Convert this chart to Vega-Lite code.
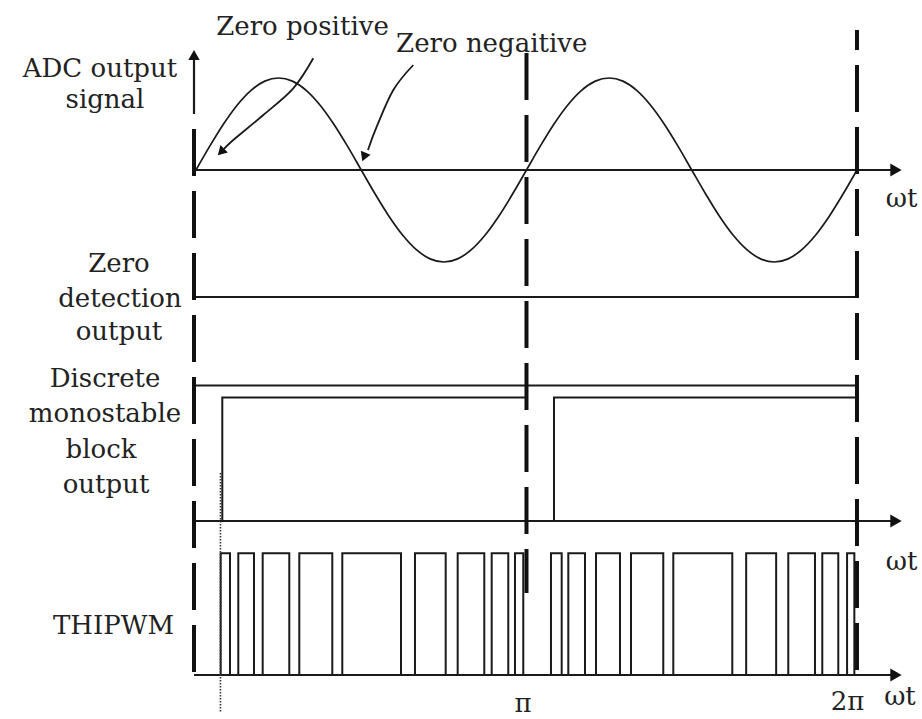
{
  "$schema": "https://vega.github.io/schema/vega-lite/v6.json",
  "width": 922,
  "height": 719,
  "autosize": "none",
  "padding": 0,
  "background": "white",
  "config": {"view": {"stroke": null}},
  "encoding": {
    "x": {"field": "u", "type": "quantitative", "scale": {"domain": [-0.593, 2.1967], "nice": false, "zero": false}, "axis": null},
    "y": {"field": "v", "type": "quantitative", "scale": {"domain": [-5.9674, 1.8478], "nice": false, "zero": false}, "axis": null}
  },
  "layer": [
    {
      "data": {"values": [
        {"u": 0, "v": 0}, {"u": 0.04167, "v": 0.2588}, {"u": 0.08333, "v": 0.5}, {"u": 0.125, "v": 0.7071},
        {"u": 0.16667, "v": 0.866}, {"u": 0.20833, "v": 0.9659}, {"u": 0.25, "v": 1}, {"u": 0.29167, "v": 0.9659},
        {"u": 0.33333, "v": 0.866}, {"u": 0.375, "v": 0.7071}, {"u": 0.41667, "v": 0.5}, {"u": 0.45833, "v": 0.2588},
        {"u": 0.5, "v": 0}, {"u": 0.54167, "v": -0.2588}, {"u": 0.58333, "v": -0.5}, {"u": 0.625, "v": -0.7071},
        {"u": 0.66667, "v": -0.866}, {"u": 0.70833, "v": -0.9659}, {"u": 0.75, "v": -1}, {"u": 0.79167, "v": -0.9659},
        {"u": 0.83333, "v": -0.866}, {"u": 0.875, "v": -0.7071}, {"u": 0.91667, "v": -0.5}, {"u": 0.95833, "v": -0.2588},
        {"u": 1, "v": 0}, {"u": 1.04167, "v": 0.2588}, {"u": 1.08333, "v": 0.5}, {"u": 1.125, "v": 0.7071},
        {"u": 1.16667, "v": 0.866}, {"u": 1.20833, "v": 0.9659}, {"u": 1.25, "v": 1}, {"u": 1.29167, "v": 0.9659},
        {"u": 1.33333, "v": 0.866}, {"u": 1.375, "v": 0.7071}, {"u": 1.41667, "v": 0.5}, {"u": 1.45833, "v": 0.2588},
        {"u": 1.5, "v": 0}, {"u": 1.54167, "v": -0.2588}, {"u": 1.58333, "v": -0.5}, {"u": 1.625, "v": -0.7071},
        {"u": 1.66667, "v": -0.866}, {"u": 1.70833, "v": -0.9659}, {"u": 1.75, "v": -1}, {"u": 1.79167, "v": -0.9659},
        {"u": 1.83333, "v": -0.866}, {"u": 1.875, "v": -0.7071}, {"u": 1.91667, "v": -0.5}, {"u": 1.95833, "v": -0.2588},
        {"u": 2, "v": 0}
      ]},
      "mark": {"type": "line", "interpolate": "monotone", "color": "#1a1a1a", "strokeWidth": 1.7}
    },
    {
      "data": {"values": [
        {"g": "adc axis", "u": 0, "v": 0, "u2": 2.12, "v2": 0},
        {"g": "zero detection", "u": 0, "v": -1.3804, "u2": 2, "v2": -1.3804},
        {"g": "monostable upper", "u": 0, "v": -2.3424, "u2": 2, "v2": -2.3424},
        {"g": "monostable axis", "u": 0, "v": -3.8152, "u2": 2.12, "v2": -3.8152},
        {"g": "pwm axis", "u": -0.006, "v": -5.4891, "u2": 2.12, "v2": -5.4891},
        {"g": "y shaft", "u": -0.006, "v": 1.25, "u2": -0.006, "v2": 0.6087}
      ]},
      "mark": {"type": "rule", "color": "#1a1a1a", "strokeWidth": 2.2},
      "encoding": {"x2": {"field": "u2"}, "y2": {"field": "v2"}}
    },
    {
      "data": {"values": [
        {"g": "zero", "u": -0.006, "v": 0.4457, "v2": -5.4891},
        {"g": "pi", "u": 1, "v": 1.2717, "v2": -4.5978}
      ]},
      "mark": {"type": "rule", "color": "#111111", "strokeWidth": 4, "strokeDash": [47, 15]},
      "encoding": {"y2": {"field": "v2"}}
    },
    {
      "data": {"values": [
        {"g": "2pi", "u": 2, "v": 1.5217, "v2": -5.4891}
      ]},
      "mark": {"type": "rule", "color": "#111111", "strokeWidth": 4, "strokeDash": [47, 15], "strokeDashOffset": 27},
      "encoding": {"y2": {"field": "v2"}}
    },
    {
      "data": {"values": [
        {"s": "m1", "o": 1, "u": 0.0796, "v": -3.8152},
        {"s": "m1", "o": 2, "u": 0.0796, "v": -2.4728},
        {"s": "m1", "o": 3, "u": 0.9985, "v": -2.4728},
        {"s": "m2", "o": 1, "u": 1.0832, "v": -3.8152},
        {"s": "m2", "o": 2, "u": 1.0832, "v": -2.4728},
        {"s": "m2", "o": 3, "u": 2, "v": -2.4728}
      ]},
      "mark": {"type": "line", "color": "#1a1a1a", "strokeWidth": 2},
      "encoding": {"detail": {"field": "s"}, "order": {"field": "o", "type": "quantitative"}}
    },
    {
      "data": {"values": [
        {"u": 0.0747, "u2": 0.1029, "v": -4.1663, "v2": -5.4891},
        {"u": 0.128, "u2": 0.1755, "v": -4.1663, "v2": -5.4891},
        {"u": 0.2018, "u2": 0.2823, "v": -4.1663, "v2": -5.4891},
        {"u": 0.3126, "u2": 0.4124, "v": -4.1663, "v2": -5.4891},
        {"u": 0.4427, "u2": 0.6203, "v": -4.1663, "v2": -5.4891},
        {"u": 0.6626, "u2": 0.7555, "v": -4.1663, "v2": -5.4891},
        {"u": 0.7918, "u2": 0.8723, "v": -4.1663, "v2": -5.4891},
        {"u": 0.8947, "u2": 0.9449, "v": -4.1663, "v2": -5.4891},
        {"u": 0.9652, "u2": 0.9903, "v": -4.1663, "v2": -5.4891},
        {"u": 1.0741, "u2": 1.1065, "v": -4.1663, "v2": -5.4891},
        {"u": 1.1265, "u2": 1.177, "v": -4.1663, "v2": -5.4891},
        {"u": 1.2103, "u2": 1.2829, "v": -4.1663, "v2": -5.4891},
        {"u": 1.3162, "u2": 1.4139, "v": -4.1663, "v2": -5.4891},
        {"u": 1.4442, "u2": 1.6227, "v": -4.1663, "v2": -5.4891},
        {"u": 1.6647, "u2": 1.7554, "v": -4.1663, "v2": -5.4891},
        {"u": 1.7921, "u2": 1.8729, "v": -4.1663, "v2": -5.4891},
        {"u": 1.895, "u2": 1.9434, "v": -4.1663, "v2": -5.4891},
        {"u": 1.97, "u2": 1.992, "v": -4.1663, "v2": -5.4891}
      ]},
      "mark": {"type": "rect", "filled": false, "color": "#1a1a1a", "strokeWidth": 2},
      "encoding": {"x2": {"field": "u2"}, "y2": {"field": "v2"}}
    },
    {
      "data": {"values": [{"u": 0.074, "v": -3.2935, "v2": -5.9022}]},
      "mark": {"type": "rule", "color": "#333333", "strokeWidth": 1.6, "strokeDash": [1.5, 1.5]},
      "encoding": {"y2": {"field": "v2"}}
    },
    {
      "data": {"values": [
        {"a": "zero positive", "o": 1, "u": 0.3549, "v": 1.2141},
        {"a": "zero positive", "o": 2, "u": 0.2944, "v": 0.888},
        {"a": "zero positive", "o": 3, "u": 0.2036, "v": 0.5978},
        {"a": "zero positive", "o": 4, "u": 0.1129, "v": 0.3261},
        {"a": "zero positive", "o": 5, "u": 0.0847, "v": 0.2283},
        {"a": "zero negaitive", "o": 1, "u": 0.6575, "v": 1.1413},
        {"a": "zero negaitive", "o": 2, "u": 0.597, "v": 0.8696},
        {"a": "zero negaitive", "o": 3, "u": 0.5468, "v": 0.4707},
        {"a": "zero negaitive", "o": 4, "u": 0.5204, "v": 0.2174}
      ]},
      "mark": {"type": "line", "interpolate": "cardinal", "color": "#1a1a1a", "strokeWidth": 1.8},
      "encoding": {"detail": {"field": "a"}, "order": {"field": "o", "type": "quantitative"}}
    },
    {
      "data": {"values": [
        {"g": "adc axis", "u": 2.118, "v": 0},
        {"g": "monostable axis", "u": 2.118, "v": -3.8152},
        {"g": "pwm axis", "u": 2.118, "v": -5.4891}
      ]},
      "mark": {"type": "point", "shape": "triangle-right", "filled": true, "color": "#111111", "size": 170, "opacity": 1}
    },
    {
      "data": {"values": [{"g": "y axis", "u": -0.006, "v": 1.25}]},
      "mark": {"type": "point", "shape": "triangle-up", "filled": true, "color": "#111111", "size": 130, "opacity": 1}
    },
    {
      "data": {"values": [{"a": "zero positive", "u": 0.0756, "v": 0.1957}]},
      "mark": {"type": "point", "shape": "triangle-up", "filled": true, "color": "#111111", "size": 110, "angle": 225, "opacity": 1}
    },
    {
      "data": {"values": [{"a": "zero negaitive", "u": 0.5083, "v": 0.1413}]},
      "mark": {"type": "point", "shape": "triangle-up", "filled": true, "color": "#111111", "size": 110, "angle": 202, "opacity": 1}
    },
    {
      "data": {"values": [
        {"t": "Zero positive", "u": 0.3222, "v": 1.4674},
        {"t": "Zero negaitive", "u": 0.8947, "v": 1.2859},
        {"t": "ADC output", "u": -0.2905, "v": 1.0141},
        {"t": "signal", "u": -0.2753, "v": 0.67},
        {"t": "Zero", "u": -0.233, "v": -1.1054},
        {"t": "detection", "u": -0.23, "v": -1.4859},
        {"t": "output", "u": -0.233, "v": -1.8478},
        {"t": "Discrete", "u": -0.2753, "v": -2.3554},
        {"t": "monostable", "u": -0.2753, "v": -2.7359},
        {"t": "block", "u": -0.2874, "v": -3.1337},
        {"t": "output", "u": -0.2723, "v": -3.5141},
        {"t": "THIPWM", "u": -0.2496, "v": -5.0435},
        {"t": "π", "u": 0.9894, "v": -5.89},
        {"t": "2π", "u": 1.9713, "v": -5.87},
        {"t": "ωt", "u": 2.1352, "v": -0.3989},
        {"t": "ωt", "u": 2.1352, "v": -4.3478},
        {"t": "ωt", "u": 2.1301, "v": -5.8152}
      ]},
      "mark": {"type": "text", "font": "DejaVu Serif", "fontSize": 26, "align": "center", "baseline": "alphabetic", "color": "#222222"},
      "encoding": {"text": {"field": "t"}}
    }
  ]
}
